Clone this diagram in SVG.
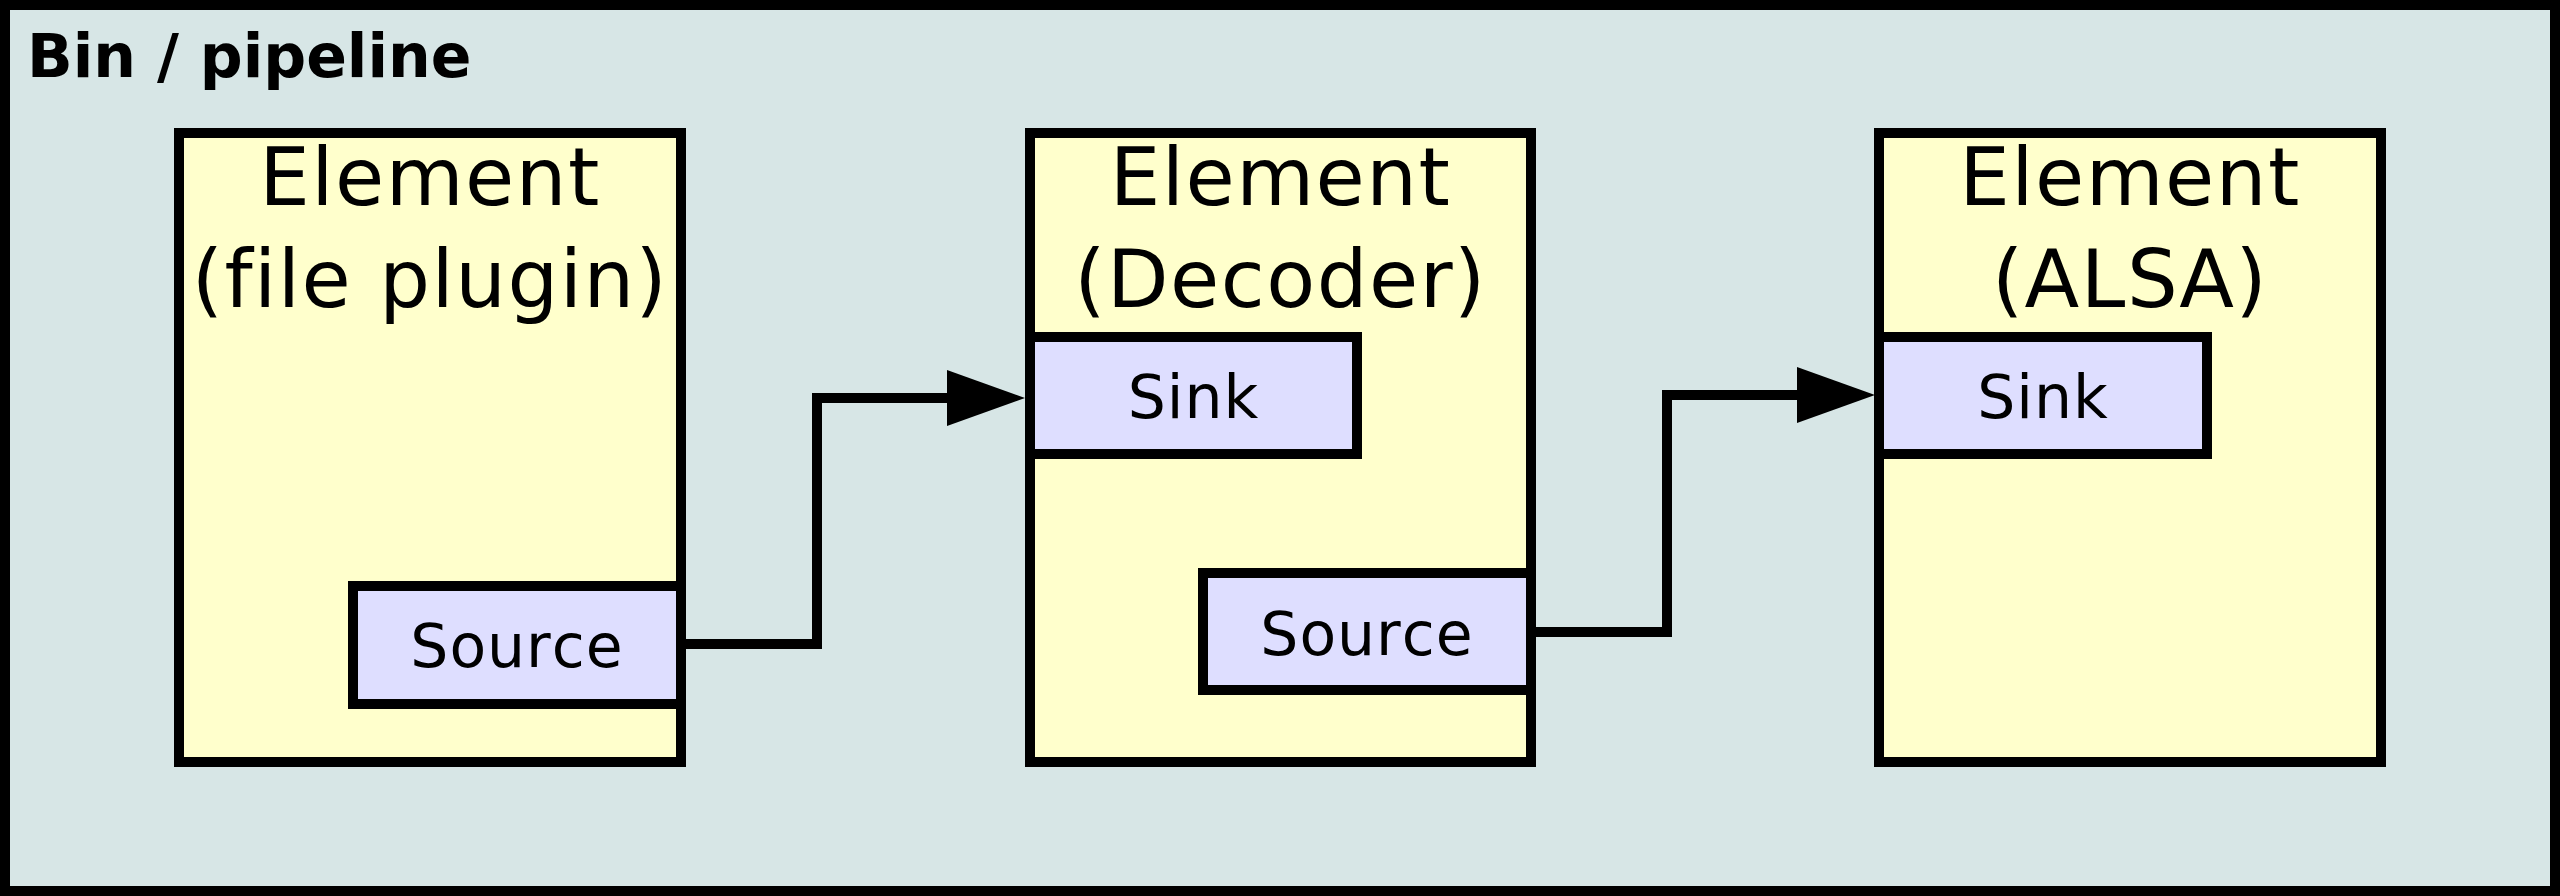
<svg xmlns="http://www.w3.org/2000/svg" width="2560" height="896" viewBox="0 0 2560 896">
<style>
.frame{fill:#d7e6e6;stroke:#000;stroke-width:10}
.elem{fill:#ffffcc;stroke:#000;stroke-width:10}
.pad{fill:#dedeff;stroke:#000;stroke-width:10}
.title{font-family:"DejaVu Sans",sans-serif;font-weight:bold;font-size:60px;fill:#000}
.etxt{font-family:"DejaVu Sans",sans-serif;font-size:80px;fill:#000;text-anchor:middle;font-kerning:none;letter-spacing:1.5px}
.ptxt{font-family:"DejaVu Sans",sans-serif;font-size:60px;fill:#000;text-anchor:middle;font-kerning:none;letter-spacing:1px}
.conn{fill:none;stroke:#000;stroke-width:10;stroke-linejoin:miter}
</style>
<defs>
<marker id="arrow" markerUnits="userSpaceOnUse" markerWidth="80" markerHeight="58" refX="0" refY="28" orient="auto" viewBox="0 0 80 58">
<path d="M0,0 L78,28 L0,56 z" fill="#000"/>
</marker>
</defs>
<g id="pipeline">
<rect class="frame" x="5" y="5" width="2550" height="886"/>
<text class="title" x="27" y="77">Bin / pipeline</text>
</g>
<g id="element-file">
<rect class="elem" x="179" y="133" width="502" height="629"/>
<text class="etxt" x="430" y="205">Element</text>
<text class="etxt" x="430" y="307">(file plugin)</text>
</g>
<g id="element-file-source">
<rect class="pad" x="353" y="586" width="328" height="118"/>
<text class="ptxt" x="517" y="667">Source</text>
</g>
<g id="element-decoder">
<rect class="elem" x="1030" y="133" width="501" height="629"/>
<text class="etxt" x="1280.5" y="205">Element</text>
<text class="etxt" x="1280.5" y="307">(Decoder)</text>
</g>
<g id="element-decoder-sink">
<rect class="pad" x="1030" y="337" width="327" height="117"/>
<text class="ptxt" x="1193.5" y="418">Sink</text>
</g>
<g id="element-decoder-source">
<rect class="pad" x="1203" y="573" width="328" height="117"/>
<text class="ptxt" x="1367" y="655">Source</text>
</g>
<g id="element-alsa">
<rect class="elem" x="1879" y="133" width="502" height="629"/>
<text class="etxt" x="2130" y="205">Element</text>
<text class="etxt" x="2130" y="307">(ALSA)</text>
</g>
<g id="element-alsa-sink">
<rect class="pad" x="1879" y="337" width="328" height="117"/>
<text class="ptxt" x="2043" y="418">Sink</text>
</g>
<g id="connectors">
<path class="conn" d="M681,644 H817 V398 H947" marker-end="url(#arrow)"/>
<path class="conn" d="M1531,632 H1667 V395 H1797" marker-end="url(#arrow)"/>
</g>
</svg>
